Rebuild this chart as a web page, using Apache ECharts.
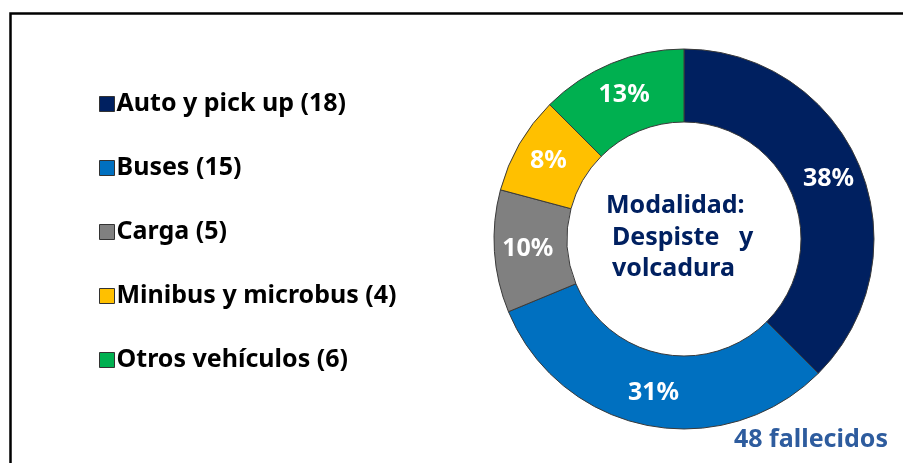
<!DOCTYPE html>
<html>
<head>
<meta charset="utf-8">
<script src="https://cdn.jsdelivr.net/npm/echarts@6/dist/echarts.min.js"></script>
<style>
  html, body { margin: 0; padding: 0; background: #fff; }
  #main { width: 903px; height: 463px; }
</style>
</head>
<body>
<div id="main"></div>
<script>
// datos
const categorias = ['Auto y pick up', 'Buses', 'Carga', 'Minibus y microbus', 'Otros vehículos']
const fallecidos = [18, 15, 5, 4, 6]
const colores = ['#002060', '#0070C0', '#808080', '#FFC000', '#00B050']

const total = fallecidos.reduce((a, b) => a + b, 0)
const font = '"Noto Sans", "Open Sans", sans-serif'

const option = {
  backgroundColor: '#fff',
  legend: {
    orient: 'vertical',
    left: 94,
    top: 84,
    icon: 'rect',
    itemWidth: 15,
    itemHeight: 15,
    itemGap: 34,
    selectedMode: false,
    itemStyle: { borderColor: '#333', borderWidth: 1 },
    formatter: name => name + ' (' + fallecidos[categorias.indexOf(name)] + ')',
    textStyle: {
      fontFamily: font,
      fontSize: 25,
      fontWeight: 'bold',
      color: '#000',
      lineHeight: 30,
      padding: [0, 0, 0, -3]
    },
    data: categorias
  },
  graphic: [
    {
      type: 'rect',
      shape: { x: 10.5, y: 13.5, width: 1000, height: 1000 },
      style: { fill: 'none', stroke: '#000', lineWidth: 2.5 },
      z: 10
    },
    {
      type: 'text',
      left: 606, top: 193,
      style: { text: 'Modalidad:', font: 'bold 25px ' + font, fill: '#002060' }
    },
    {
      type: 'text',
      left: 612, top: 225,
      style: { text: 'Despiste   y', font: 'bold 25px ' + font, fill: '#002060' }
    },
    {
      type: 'text',
      left: 612, top: 256,
      style: { text: 'volcadura', font: 'bold 25px ' + font, fill: '#002060' }
    },
    {
      type: 'text',
      left: 734, top: 427,
      style: { text: total + ' fallecidos', font: 'bold 25px ' + font, fill: '#2E5C9E' }
    }
  ],
  series: [
    {
      type: 'pie',
      center: [684, 239],
      radius: [117, 190],
      startAngle: 90,
      clockwise: true,
      avoidLabelOverlap: false,
      silent: true,
      itemStyle: { borderColor: '#3a3a3a', borderWidth: 1 },
      label: {
        position: 'inside',
        formatter: p => Math.round(p.percent) + '%',
        color: '#fff',
        fontFamily: font,
        fontSize: 25,
        fontWeight: 'bold'
      },
      labelLine: { show: false },
      data: categorias.map((c, i) => ({
        name: c,
        value: fallecidos[i],
        itemStyle: { color: colores[i] }
      }))
    }
  ]
}

const chart = echarts.init(document.getElementById('main'))
chart.setOption(option)
</script>
</body>
</html>
